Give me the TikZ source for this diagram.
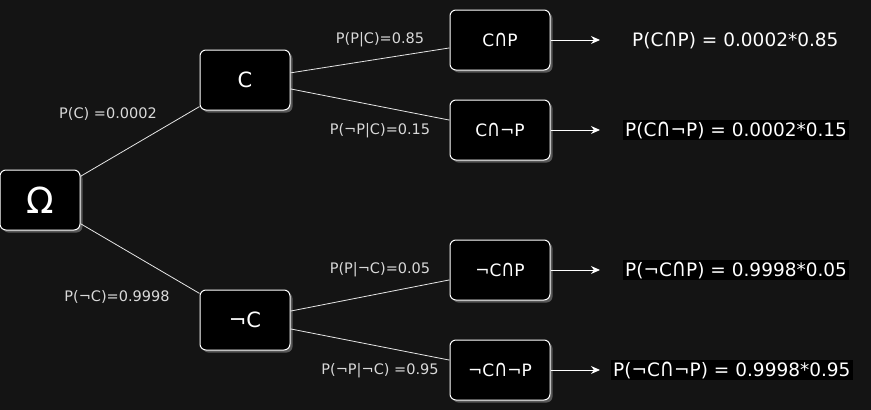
\documentclass[tikz,border=0pt]{standalone}
\usepackage{fontspec}
\setmainfont{DejaVu Sans}
\newcommand\isect{\scalebox{1.05}[1.35]{∩}}
\usetikzlibrary{arrows.meta,shadows}
\definecolor{bgc}{HTML}{141414}
\definecolor{edgec}{HTML}{E6E6E6}
\definecolor{labc}{HTML}{D9D9D9}
\begin{document}
\begin{tikzpicture}[x=1pt,y=-1pt,
  box/.style={draw=white, fill=black, rounded corners=6pt, line width=1pt,
    text=white, inner sep=0pt, minimum height=60pt,
    drop shadow={shadow xshift=2.5pt, shadow yshift=-2.5pt, fill=gray!70!black, opacity=1}},
  conn/.style={draw=edgec, line width=0.8pt},
  arr/.style={draw=white, line width=1pt, -{Stealth[length=9pt,width=8pt]}},
  elab/.style={text=labc, font=\fontsize{14.5}{17}\selectfont, inner sep=1pt},
  rlab/.style={text=white, font=\fontsize{18.5}{21}\selectfont, inner sep=1pt, anchor=west},
  rlabbg/.style={rlab, fill=black, inner xsep=2pt, inner ysep=2pt}
]
\useasboundingbox[fill=bgc] (0,0) rectangle (871,410);

\node[box, minimum width=80pt, font=\fontsize{36}{40}\selectfont] (O) at (40,200) {Ω};
\node[box, minimum width=90pt, font=\fontsize{21}{24}\selectfont] (C) at (245,80) {C};
\node[box, minimum width=90pt, font=\fontsize{21}{24}\selectfont] (NC) at (245,320) {¬C};
\node[box, minimum width=100pt, font=\fontsize{17}{20}\selectfont] (CP) at (500,40) {C\isect P};
\node[box, minimum width=100pt, font=\fontsize{17}{20}\selectfont] (CNP) at (500,130) {C\isect¬P};
\node[box, minimum width=100pt, font=\fontsize{17}{20}\selectfont] (NCP) at (500,270) {¬C\isect P};
\node[box, minimum width=100pt, font=\fontsize{17}{20}\selectfont] (NCNP) at (500,370) {¬C\isect¬P};

\draw[conn] (O) -- (C);
\draw[conn] (O) -- (NC);
\draw[conn] (C) -- (CP);
\draw[conn] (C) -- (CNP);
\draw[conn] (NC) -- (NCP);
\draw[conn] (NC) -- (NCNP);

\node[elab] (l1) at (108,114) {P(C) =0.0002};
\node[elab] (l2) at (117,297) {P(¬C)=0.9998};
\node[elab] (l3) at (380,40) {P(P|C)=0.85};
\node[elab] (l4) at (380,131) {P(¬P|C)=0.15};
\node[elab] (l5) at (380,270) {P(P|¬C)=0.05};
\node[elab] (l6) at (380,371) {P(¬P|¬C) =0.95};

\coordinate (e1) at (600,40);
\coordinate (e2) at (600,130);
\coordinate (e3) at (600,270);
\coordinate (e4) at (600,370);
\draw[arr] (CP) -- (e1);
\draw[arr] (CNP) -- (e2);
\draw[arr] (NCP) -- (e3);
\draw[arr] (NCNP) -- (e4);

\node[rlab] (r1) at (631,40) {P(C\isect P) = 0.0002*0.85};
\node[rlabbg] (r2) at (623,130) {P(C\isect¬P) = 0.0002*0.15};
\node[rlabbg] (r3) at (623,270) {P(¬C\isect P) = 0.9998*0.05};
\node[rlabbg] (r4) at (611,370) {P(¬C\isect¬P) = 0.9998*0.95};
\end{tikzpicture}
\end{document}
